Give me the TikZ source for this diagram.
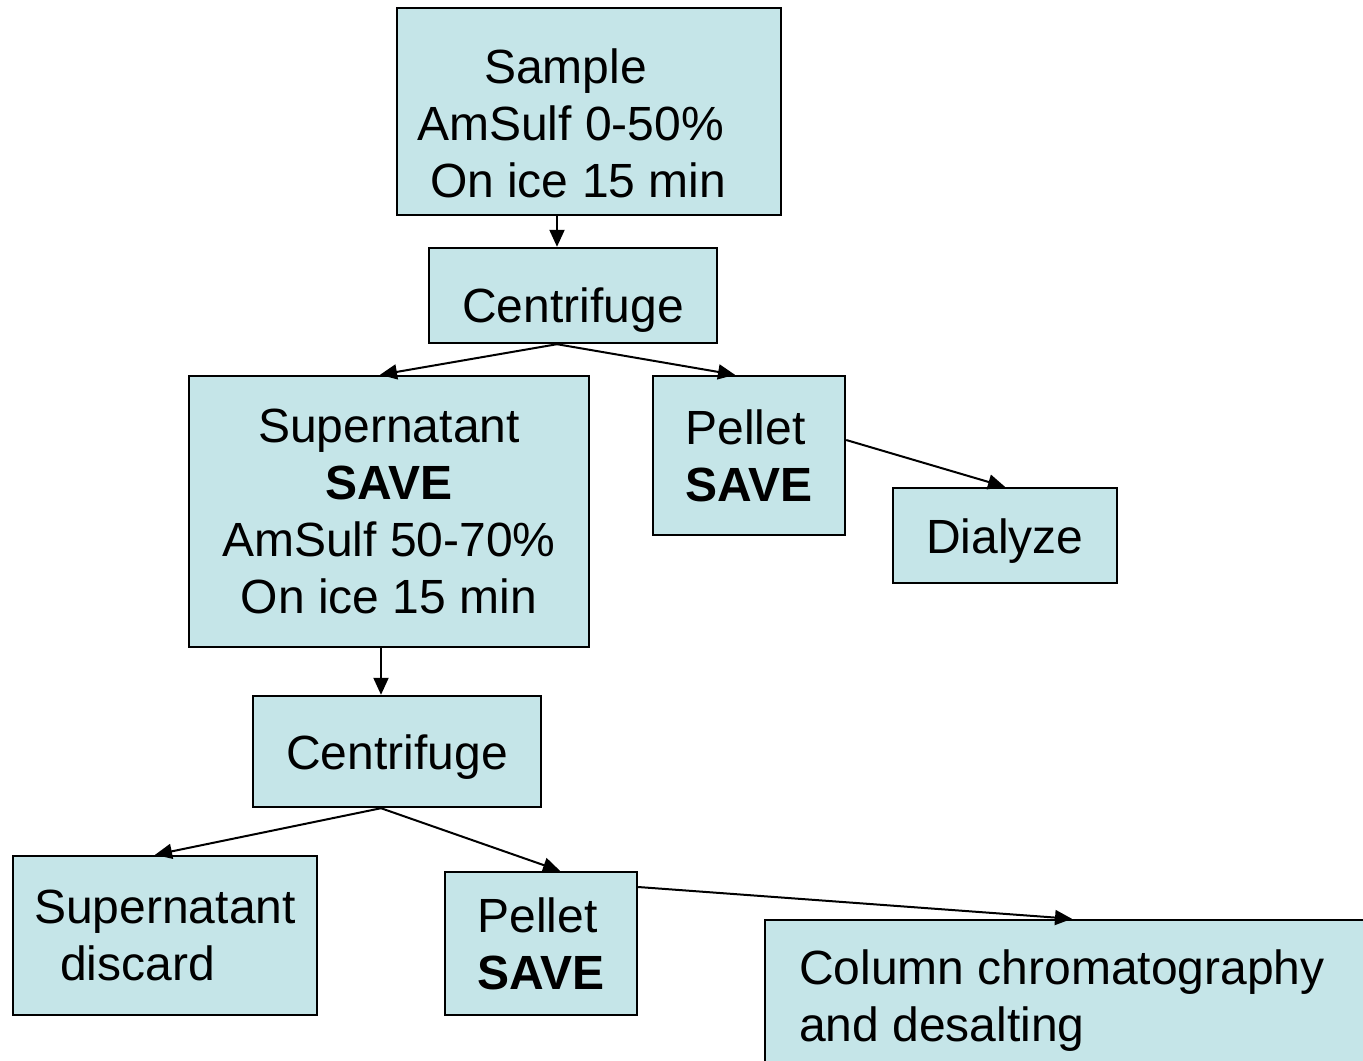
\documentclass[tikz,border=0pt]{standalone}
\usepackage{fontspec}
\setmainfont{Liberation Sans}
\usetikzlibrary{arrows.meta}
\definecolor{boxfill}{HTML}{C5E5E8}
\tikzset{
    box/.style={draw, line width=1.2pt, fill=boxfill, inner sep=0pt, font=\fontsize{24}{28.5}\selectfont},
    arr/.style={line width=1pt, -{Triangle[length=8.5pt,width=7.5pt]}}
}
\begin{document}
\begin{tikzpicture}[x=0.5pt, y=-0.5pt]
    \useasboundingbox (0,0) rectangle (1363,1060);
    \clip (0,0) rectangle (1363,1060);
    \node [box, align=flush left, text width=172pt, minimum width=192pt, minimum height=103.5pt] (sample) at (589,111.5) {\rule{0pt}{29.5pt}\hspace*{33.5pt}Sample\\AmSulf 0-50\%\\\hspace*{6.5pt}On ice 15 min};
    \node [box, text height=31.5pt, minimum width=144pt, minimum height=47.5pt] (cent1) at (573,295.5) {Centrifuge};
    \node [box, align=center, minimum width=200pt, minimum height=135.5pt] (super1) at (389,511.5) {Supernatant\\\textbf{SAVE}\\AmSulf 50-70\%\\On ice 15 min};
    \node [box, align=left, minimum width=96pt, minimum height=79.5pt] (pellet1) at (749,455.5) {Pellet\\\textbf{SAVE}};
    \node [box, text height=22.5pt, minimum width=112pt, minimum height=47.5pt] (dialyze) at (1005,535.5) {Dialyze};
    \node [box, text height=22.5pt, minimum width=144pt, minimum height=55.5pt] (cent2) at (397,751.5) {Centrifuge};
    \node [box, align=left, minimum width=152pt, minimum height=79.5pt] (super2) at (165,935.5) {Supernatant\\\hspace*{13pt}discard};
    \node [box, align=left, minimum width=96pt, minimum height=71.5pt] (pellet2) at (541,943.5) {Pellet\\\textbf{SAVE}};
    \node [box, align=flush left, text width=268pt, minimum width=302pt, minimum height=81pt] (column) at (1067,1001) {Column chromatography\\and desalting};
    \draw [arr] ([xshift=-8pt]cent1.north |- sample.south) -- ([xshift=-8pt]cent1.north);
    \draw [arr] ([xshift=-8pt]cent1.south) -- ([xshift=-4.5pt]super1.north);
    \draw [arr] ([xshift=-8pt]cent1.south) -- ([xshift=-7pt]pellet1.north);
    \draw [arr] ([yshift=7.75pt]pellet1.east) -- (dialyze.north);
    \draw [arr] ([xshift=-8pt]cent2.north |- super1.south) -- ([xshift=-8pt]cent2.north);
    \draw [arr] ([xshift=-8pt]cent2.south) -- ([xshift=-5pt]super2.north);
    \draw [arr] ([xshift=-8pt]cent2.south) -- ([xshift=9.5pt]pellet2.north);
    \draw [arr] ([yshift=28.25pt]pellet2.east) -- ([xshift=2.5pt]column.north);
\end{tikzpicture}
\end{document}
